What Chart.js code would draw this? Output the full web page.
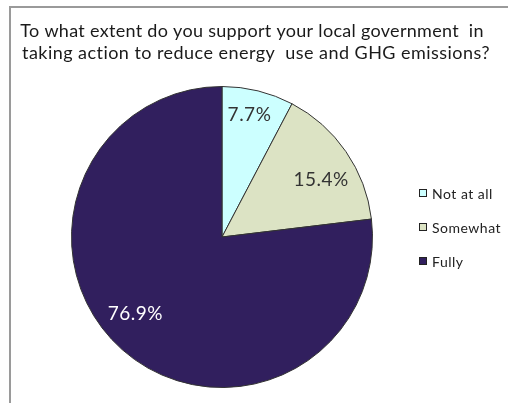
<!DOCTYPE html>
<html>
<head>
<meta charset="utf-8">
<script src="https://cdn.jsdelivr.net/npm/chart.js@4.4.1/dist/chart.umd.min.js"></script>
<style>
    html, body { margin: 0; padding: 0; background: #fff; overflow: hidden; }
    #wrap { position: relative; width: 508px; height: 403px; }
    #frame {
        position: absolute; left: 9px; top: 6px; width: 520px; height: 420px;
        border-left: 2px solid #9a9a9a; border-top: 2px solid #9a9a9a;
    }
    canvas { position: absolute; left: 0; top: 0; }
</style>
</head>
<body>
<div id="wrap">
    <div id="frame"></div>
    <canvas id="supportPie" width="508" height="403"></canvas>
</div>
<script>
    const titleLines = [
        'To what extent do you support your local government  in',
        'taking action to reduce energy  use and GHG emissions?'
    ];
    const categories = ['Not at all', 'Somewhat', 'Fully'];
    const shares = [7.7, 15.4, 76.9];
    const sliceColors = ['#CCFFFF', '#DCE3C4', '#311F5E'];
    const labelColors = ['#333333', '#333333', '#FFFFFF'];
    // radial fraction and angle nudge (radians) for each percent label
    const labelRadius = [0.83, 0.76, 0.77];
    const labelNudge = [-0.02, 0.08, 0.12];

    const FONT = 'Lato, "DejaVu Sans", sans-serif';

    // two-line heading, drawn without width squeezing
    const heading = {
        id: 'heading',
        afterDraw(chart) {
            const ctx = chart.ctx;
            ctx.save();
            ctx.font = '18px ' + FONT;
            ctx.fillStyle = '#1a1a1a';
            ctx.textAlign = 'center';
            ctx.textBaseline = 'alphabetic';
            ctx.letterSpacing = '0.3px';
            ctx.fillText(titleLines[0], 252, 37);
            ctx.letterSpacing = '0.45px';
            ctx.fillText(titleLines[1], 256, 59);
            ctx.restore();
        }
    };

    // percent labels inside the slices
    const sliceLabels = {
        id: 'sliceLabels',
        afterDatasetsDraw(chart) {
            const ctx = chart.ctx;
            const arcs = chart.getDatasetMeta(0).data;
            ctx.save();
            ctx.font = '19px ' + FONT;
            ctx.letterSpacing = '0.5px';
            ctx.textAlign = 'center';
            ctx.textBaseline = 'middle';
            arcs.forEach((arc, i) => {
                const mid = (arc.startAngle + arc.endAngle) / 2 + labelNudge[i];
                const r = arc.outerRadius * labelRadius[i];
                ctx.fillStyle = labelColors[i];
                ctx.fillText(shares[i].toFixed(1) + '%', arc.x + Math.cos(mid) * r, arc.y + Math.sin(mid) * r);
            });
            ctx.restore();
        }
    };

    // legend column at the right
    const sideLegend = {
        id: 'sideLegend',
        afterDraw(chart) {
            const ctx = chart.ctx;
            ctx.save();
            ctx.font = '14px ' + FONT;
            ctx.letterSpacing = '0.5px';
            ctx.textBaseline = 'middle';
            categories.forEach((name, i) => {
                const y = 193 + i * 34;
                ctx.fillStyle = sliceColors[i];
                ctx.fillRect(419.5, y - 3.5, 7, 7);
                ctx.strokeStyle = '#222';
                ctx.lineWidth = 1;
                ctx.strokeRect(419.5, y - 3.5, 7, 7);
                ctx.fillStyle = '#222';
                ctx.fillText(name, 432, y + 1);
            });
            ctx.restore();
        }
    };

    const pieCtx = document.getElementById('supportPie').getContext('2d');
    const supportPie = new Chart(pieCtx, {
        type: 'pie',
        data: {
            labels: categories,
            datasets: [{
                data: shares,
                backgroundColor: sliceColors,
                borderColor: '#333333',
                borderWidth: 1
            }]
        },
        options: {
            responsive: false,
            animation: false,
            layout: {
                padding: { left: 71, right: 135, top: 86, bottom: 15 }
            },
            plugins: {
                legend: { display: false },
                tooltip: { enabled: false },
                title: { display: false }
            }
        },
        plugins: [sliceLabels, sideLegend, heading]
    });
</script>
</body>
</html>
